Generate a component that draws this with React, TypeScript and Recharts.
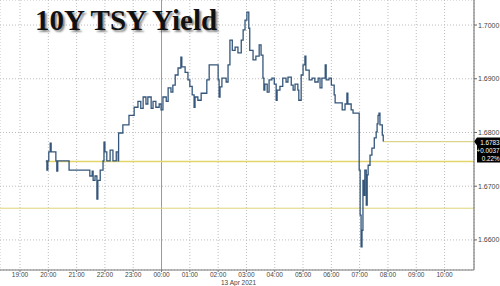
import React from 'react'
import { ComposedChart, Line, XAxis, YAxis, CartesianGrid, ReferenceLine } from 'recharts'

// traced path of the 10Y yield (time, yield)
const times = [
  '19:55', '19:57', '19:59', '20:01', '20:04', '20:06', '20:16', '20:18', '20:20', '20:44',
  '21:24', '21:28', '21:33', '21:35', '21:39', '21:43', '21:45', '21:50', '21:56', '21:58',
  '22:00', '22:04', '22:11', '22:17', '22:24', '22:28', '22:29', '22:38', '22:51', '23:02',
  '23:10', '23:16', '23:21', '23:27', '23:31', '23:38', '23:42', '23:48', '23:55', '23:59',
  '00:03', '00:10', '00:14', '00:20', '00:24', '00:29', '00:35', '00:41', '00:43', '00:50',
  '00:56', '01:00', '01:05', '01:09', '01:11', '01:17', '01:24', '01:36', '01:41', '02:00',
  '02:02', '02:04', '02:08', '02:17', '02:21', '02:25', '02:30', '02:36', '02:42', '02:49',
  '02:53', '02:57', '03:01', '03:05', '03:07', '03:14', '03:20', '03:27', '03:31', '03:35',
  '03:37', '03:39', '03:44', '03:48', '03:54', '03:59', '04:03', '04:05', '04:11', '04:17',
  '04:24', '04:28', '04:35', '04:39', '04:43', '04:49', '04:51', '04:56', '05:00', '05:04',
  '05:06', '05:13', '05:19', '05:25', '05:32', '05:36', '05:40', '05:47', '05:49', '05:55',
  '06:00', '06:06', '06:08', '06:23', '06:29', '06:33', '06:35', '06:42', '06:46', '06:59',
  '07:01', '07:03', '07:05', '07:07', '07:09', '07:11', '07:14', '07:16', '07:18', '07:22',
  '07:26', '07:31', '07:35', '07:37', '07:39', '07:41', '07:43', '07:48', '07:50',
]
const yields = [
  1.6747, 1.6730, 1.6747, 1.6764, 1.6780, 1.6764, 1.6747, 1.6728, 1.6747, 1.6730,
  1.6730, 1.6719, 1.6728, 1.6711, 1.6719, 1.6676, 1.6711, 1.6730, 1.6747, 1.6782,
  1.6764, 1.6747, 1.6767, 1.6747, 1.6764, 1.6747, 1.6799, 1.6814, 1.6832, 1.6847,
  1.6858, 1.6845, 1.6866, 1.6853, 1.6866, 1.6845, 1.6858, 1.6847, 1.6853, 1.6842,
  1.6866, 1.6858, 1.6883, 1.6875, 1.6888, 1.6907, 1.6920, 1.6940, 1.6922, 1.6912,
  1.6898, 1.6886, 1.6870, 1.6847, 1.6866, 1.6860, 1.6873, 1.6898, 1.6926, 1.6898,
  1.6866, 1.6885, 1.6901, 1.6894, 1.6926, 1.6972, 1.6953, 1.6959, 1.6948, 1.6972,
  1.6991, 1.7009, 1.7024, 1.6994, 1.6953, 1.6935, 1.6942, 1.6963, 1.6944, 1.6901,
  1.6879, 1.6890, 1.6875, 1.6898, 1.6901, 1.6890, 1.6860, 1.6879, 1.6886, 1.6901,
  1.6894, 1.6903, 1.6888, 1.6879, 1.6890, 1.6879, 1.6860, 1.6907, 1.6926, 1.6942,
  1.6916, 1.6898, 1.6901, 1.6894, 1.6901, 1.6883, 1.6901, 1.6926, 1.6898, 1.6901,
  1.6888, 1.6870, 1.6855, 1.6842, 1.6853, 1.6873, 1.6853, 1.6842, 1.6836, 1.6730,
  1.6646, 1.6587, 1.6618, 1.6711, 1.6683, 1.6730, 1.6665, 1.6721, 1.6739, 1.6758,
  1.6771, 1.6790, 1.6801, 1.6816, 1.6832, 1.6836, 1.6814, 1.6795, 1.6783,
]

const yTicks = [1.66, 1.67, 1.68, 1.69, 1.70]
const xTicks = [1, 2, 3, 4, 5, 6, 7, 8, 9, 10, 11, 12, 13, 14, 15, 16] // hours after 18:00
const prevClose = 1.6746
const lowLevel = 1.6659
const lastValue = 1.6783
const change = '+0.0037'
const changePct = '0.22%'

// hours after 18:00 on the previous day
const toT = (s: string) => {
  const [h, m] = s.split(':').map(Number)
  return (h < 18 ? h + 24 : h) - 18 + m / 60
}

const data = times.map((s, i) => ({ t: toT(s), v: yields[i] }))
const X_MIN = 0.293
const X_MAX = 17.04

const fmtHour = (t: number) => String((18 + t) % 24).padStart(2, '0') + ':00'

// horizontal level starting at a given time, drawn through the chart's scales
const LevelLabel = (color: string, fromT: number) => (props: any) => {
  const vb = props.viewBox || {}
  const x0 = vb.x
  const w = vb.width
  const x = x0 + ((fromT - X_MIN) / (X_MAX - X_MIN)) * w
  return <line x1={x} x2={x0 + w} y1={vb.y} y2={vb.y} stroke={color} strokeWidth={1.4} />
}

const PriceBox = (props: any) => {
  const vb = props.viewBox || {}
  const x = vb.x + vb.width
  const y = vb.y
  const txt = { textAnchor: 'end' as const, fill: '#fff', fontSize: 6.3, fontFamily: 'Liberation Sans' }
  return (
    <g>
      <path d={`M${x},${y} L${x + 3},${y - 4} L${x + 26},${y - 4} L${x + 26},${y + 21} L${x + 3},${y + 21} L${x + 3},${y + 4} Z`} fill="#000" />
      <text x={x + 25.5} y={y + 3} {...txt}>{lastValue.toFixed(4)}</text>
      <text x={x + 25.5} y={y + 11.5} {...txt}>{change}</text>
      <text x={x + 25.5} y={y + 19.5} {...txt}>{changePct}</text>
    </g>
  )
}

export default function App() {
  const tick = { fontSize: 6.5, fill: '#444', fontFamily: 'Liberation Sans' }
  return (
    <div style={{ position: 'relative', width: 500, height: 286, background: '#fff' }}>
      <style>{'body{margin:0}'}</style>
      <ComposedChart width={500} height={286} data={data} margin={{ top: 0, right: 0, left: 0, bottom: 0 }}>
        <CartesianGrid stroke="#bdbdbd" strokeDasharray="1 2" />
        <XAxis
          dataKey="t"
          type="number"
          domain={[X_MIN, X_MAX]}
          ticks={xTicks}
          tickFormatter={fmtHour}
          allowDataOverflow
          height={16}
          tick={tick}
          tickSize={2}
          tickMargin={0}
          stroke="#777"
          interval={0}
        />
        <YAxis
          orientation="right"
          type="number"
          domain={[1.6544, 1.70466]}
          ticks={yTicks}
          tickFormatter={(v: number) => v.toFixed(4)}
          allowDataOverflow
          width={26}
          tick={{ ...tick, fontSize: 7 }}
          tickSize={3}
          tickMargin={1}
          stroke="#666"
        />
        <ReferenceLine x={6} stroke="#9a9a9a" />
        <ReferenceLine y={lowLevel} stroke="#e0d47a" />
        <ReferenceLine y={prevClose} stroke="none" label={LevelLabel('#e3d56a', toT(times[0]) - 0.02)} />
        <ReferenceLine y={lastValue} stroke="none" label={LevelLabel('#dcd48a', toT(times[times.length - 1]))} />
        <ReferenceLine y={lastValue} stroke="none" label={<PriceBox />} />
        <Line
          type="stepAfter"
          dataKey="v"
          stroke="#34567a"
          strokeWidth={1.3}
          dot={false}
          activeDot={false}
          isAnimationActive={false}
        />
      </ComposedChart>
      <div
        style={{
          position: 'absolute',
          left: 35,
          top: 6,
          fontFamily: '"Liberation Serif", serif',
          fontWeight: 'bold',
          fontSize: 29,
          lineHeight: '29px',
          color: '#111',
          textShadow: '2px 2px 2px rgba(0,0,0,0.45)',
          whiteSpace: 'nowrap',
        }}
      >
        10Y TSY Yield
      </div>
      <div
        style={{
          position: 'absolute',
          left: 221,
          top: 279,
          fontFamily: 'Liberation Sans',
          fontSize: 6.5,
          lineHeight: '7px',
          color: '#444',
          whiteSpace: 'nowrap',
        }}
      >
        13 Apr 2021
      </div>
    </div>
  )
}
